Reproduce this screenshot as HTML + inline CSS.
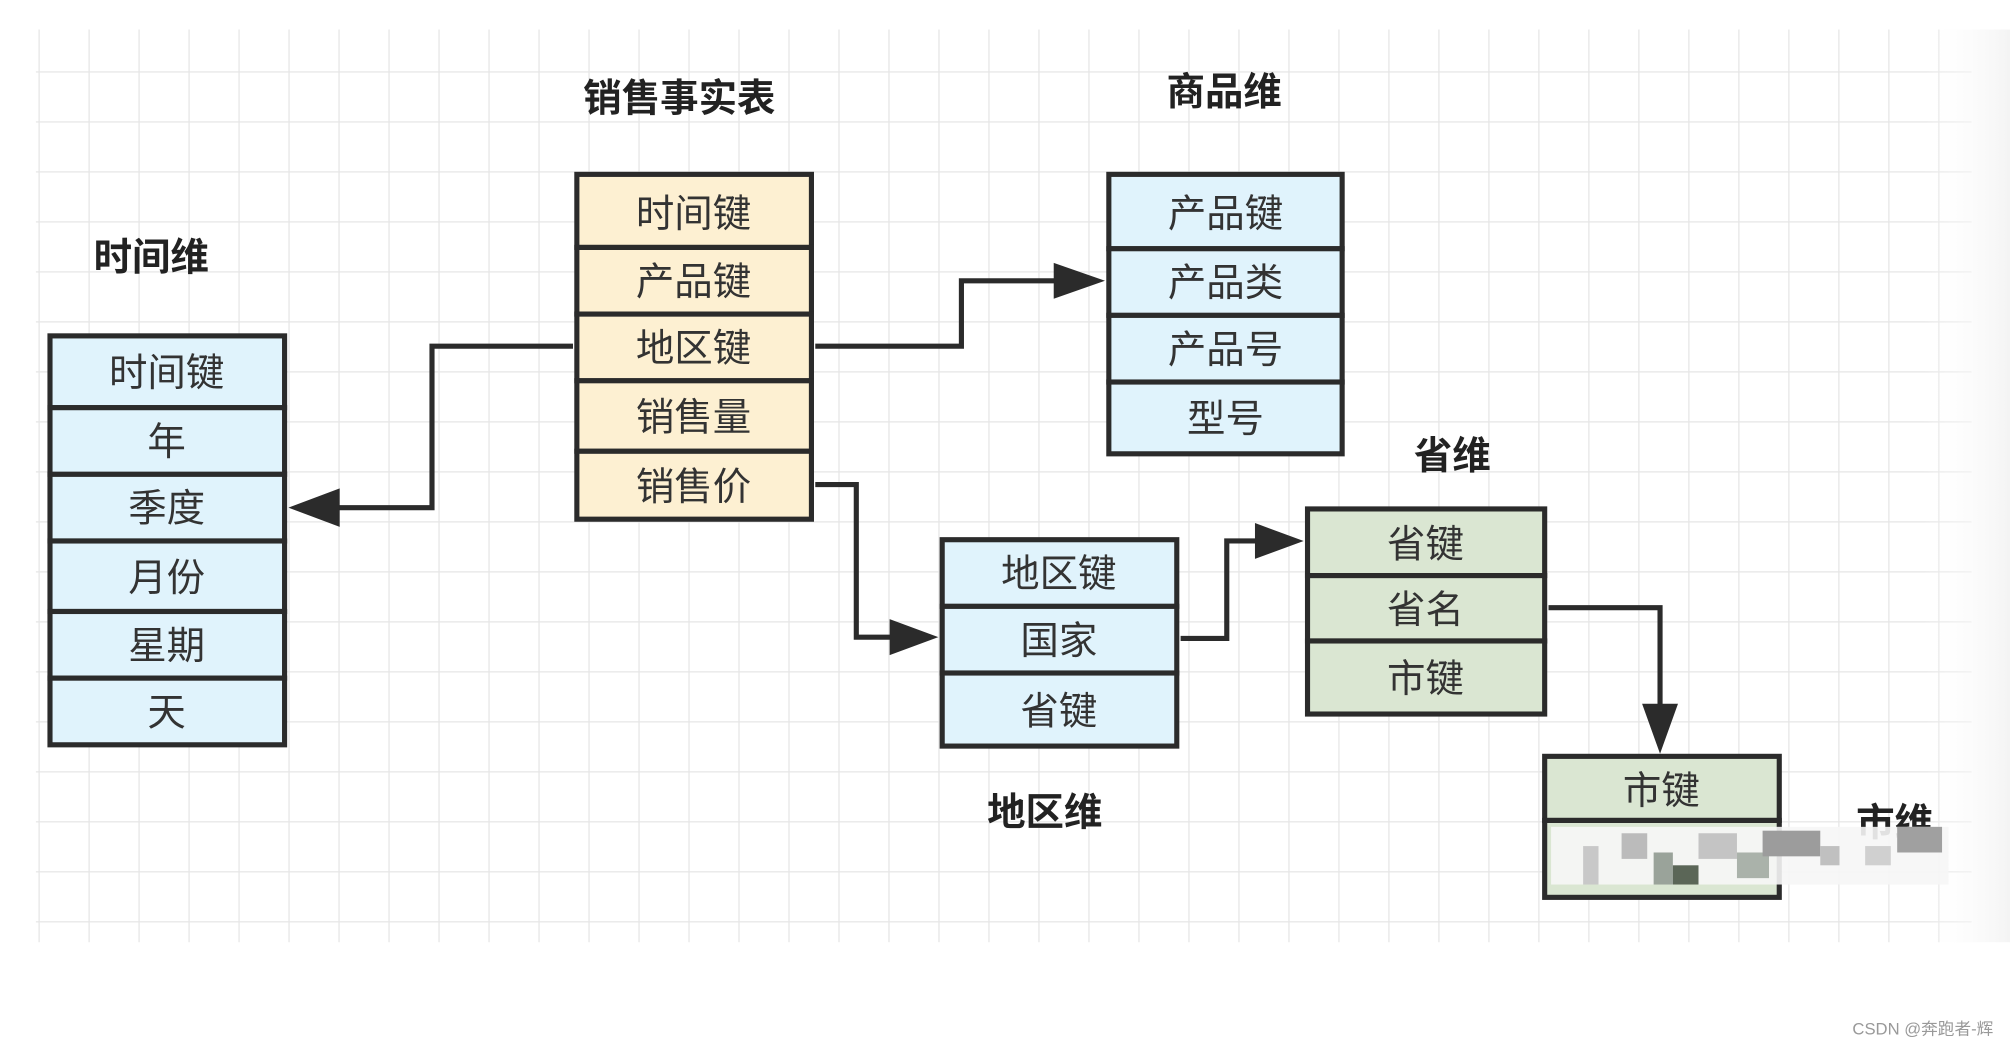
<!DOCTYPE html>
<html><head><meta charset="utf-8"><style>
html,body{margin:0;padding:0;background:#fff;}
svg{display:block;}
text{font-family:"Liberation Sans","Noto Sans CJK SC",sans-serif;}
</style></head><body>
<svg width="2010" height="1048" viewBox="0 0 1568 817.5" xmlns="http://www.w3.org/2000/svg">
<defs>
<pattern id="g" x="30" y="16.6" width="39" height="39" patternUnits="userSpaceOnUse">
<path d="M0 0V39M0 0H39" stroke="#e6e6e6" stroke-width="2" fill="none"/>
</pattern>
<linearGradient id="fade" x1="0" x2="1"><stop offset="0" stop-color="#fff" stop-opacity="0"/><stop offset="1" stop-color="#f4f4f4"/></linearGradient>
</defs>
<rect width="1568" height="817.5" fill="#fff"/>
<rect x="28" y="23" width="1510" height="712" fill="url(#g)"/>
<rect x="1500" y="23" width="68" height="712" fill="url(#fade)"/>

<g font-size="30" font-weight="bold" fill="#222" text-anchor="middle">
<text x="530" y="87">销售事实表</text>
<text x="955" y="82">商品维</text>
<text x="118" y="211">时间维</text>
<text x="1133" y="366">省维</text>
<text x="815" y="644">地区维</text>
<text x="1478" y="652">市维</text>
</g>

<g stroke="#2b2b2b" stroke-width="4" fill="none">
<path d="M447 270H337V396H262"/>
<path d="M636 270H750V219H826"/>
<path d="M636 378H668V497H697"/>
<path d="M921 498H957V422H982"/>
<path d="M1208 474H1295V552"/>
</g>
<g fill="#2b2b2b">
<polygon points="225,396 265,381 265,411"/>
<polygon points="862,219 822,205 822,233"/>
<polygon points="732,497 694,483 694,511"/>
<polygon points="1017,422 979,408 979,436"/>
<polygon points="1295,588 1281,549 1309,549"/>
</g>

<g stroke="#2b2b2b" stroke-width="4" font-size="30" text-anchor="middle" >
<!-- time -->
<g fill="#e0f3fc">
<rect x="39" y="262" width="183" height="56"/><rect x="39" y="318" width="183" height="52"/>
<rect x="39" y="370" width="183" height="52"/><rect x="39" y="422" width="183" height="55"/>
<rect x="39" y="477" width="183" height="52"/><rect x="39" y="529" width="183" height="52"/>
</g>
<!-- fact -->
<g fill="#fdf0d2">
<rect x="450" y="136" width="183" height="57"/><rect x="450" y="193" width="183" height="52"/>
<rect x="450" y="245" width="183" height="52"/><rect x="450" y="297" width="183" height="55"/>
<rect x="450" y="352" width="183" height="53"/>
</g>
<!-- product -->
<g fill="#e0f3fc">
<rect x="865" y="136" width="182" height="58"/><rect x="865" y="194" width="182" height="52"/>
<rect x="865" y="246" width="182" height="52"/><rect x="865" y="298" width="182" height="56"/>
</g>
<!-- region -->
<g fill="#e0f3fc">
<rect x="735" y="421" width="183" height="52"/><rect x="735" y="473" width="183" height="52"/>
<rect x="735" y="525" width="183" height="57"/>
</g>
<!-- province -->
<g fill="#dae6d2">
<rect x="1020" y="397" width="185" height="52"/><rect x="1020" y="449" width="185" height="51"/>
<rect x="1020" y="500" width="185" height="57"/>
</g>
<g fill="#dae6d2">
<rect x="1205" y="590" width="183" height="50"/><rect x="1205" y="640" width="183" height="60"/>
</g>
</g>

<g font-size="30" fill="#333" text-anchor="middle">
<text x="130" y="301">时间键</text><text x="130" y="355">年</text><text x="130" y="407">季度</text>
<text x="130" y="461">月份</text><text x="130" y="514">星期</text><text x="130" y="566">天</text>
<text x="541" y="177">时间键</text><text x="541" y="230">产品键</text><text x="541" y="282">地区键</text>
<text x="541" y="336">销售量</text><text x="541" y="390">销售价</text>
<text x="956" y="177">产品键</text><text x="956" y="231">产品类</text><text x="956" y="283">产品号</text><text x="956" y="337">型号</text>
<text x="826" y="458">地区键</text><text x="826" y="510">国家</text><text x="826" y="565">省键</text>
<text x="1112" y="435">省键</text><text x="1112" y="486">省名</text><text x="1112" y="540">市键</text>
<text x="1296" y="627">市键</text>
</g>

<!-- blurred mosaic -->
<g>
<rect x="1210" y="645" width="310" height="45" fill="#f6f6f6" opacity="0.9"/>
<rect x="1235" y="660" width="12" height="30" fill="#c8c8c8"/>
<rect x="1265" y="650" width="20" height="20" fill="#bbbbbb"/>
<rect x="1290" y="665" width="15" height="25" fill="#9aa39a"/>
<rect x="1305" y="675" width="20" height="15" fill="#5b6657"/>
<rect x="1325" y="650" width="30" height="20" fill="#c4c4c4"/>
<rect x="1355" y="665" width="25" height="20" fill="#aab2aa"/>
<rect x="1375" y="648" width="45" height="20" fill="#9c9c9c"/>
<rect x="1420" y="660" width="15" height="15" fill="#c0c0c0"/>
<rect x="1455" y="660" width="20" height="15" fill="#d0d0d0"/>
<rect x="1480" y="645" width="35" height="20" fill="#a0a0a0"/>
</g>

<text x="1555" y="807" font-size="13" fill="#999" text-anchor="end">CSDN @奔跑者-辉</text>
</svg>
</body></html>
